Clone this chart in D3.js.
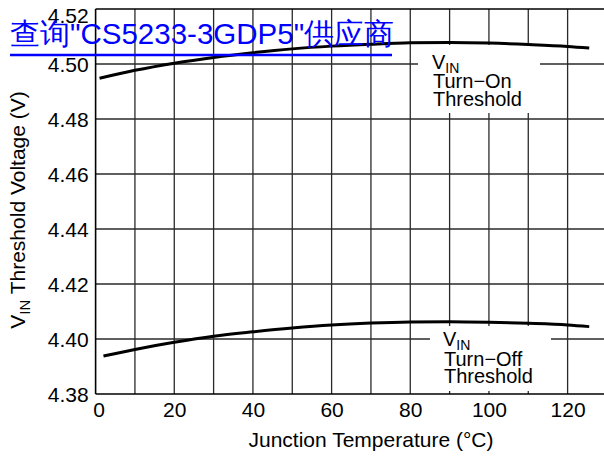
<!DOCTYPE html>
<html>
<head>
<meta charset="utf-8">
<script src="https://cdn.jsdelivr.net/npm/d3@7"></script>
<style>
  html, body { margin: 0; padding: 0; background: #fff; }
  svg { display: block; }
  text { font-family: "Liberation Sans", Arial, Helvetica, sans-serif; fill: #000; }
</style>
</head>
<body>
<script>
// ---- data ----
const xTicks = [0, 20, 40, 60, 80, 100, 120];
const xGrid = [10, 20, 30, 40, 50, 60, 70, 80, 90, 100, 110, 120];
const yTicks = [4.38, 4.40, 4.42, 4.44, 4.46, 4.48, 4.50, 4.52];
const yGrid = [4.40, 4.42, 4.44, 4.46, 4.48, 4.50];

const turnOnTemp = [1, 10, 20, 30, 40, 50, 60, 70, 80, 90, 100, 110, 120, 125.5];
const turnOnV = [4.4948, 4.4977, 4.5003, 4.5024, 4.5041, 4.5055, 4.5065, 4.5072, 4.5077, 4.5078, 4.5076, 4.5071, 4.5064, 4.5058];
const turnOffTemp = [2, 10, 20, 30, 40, 50, 60, 70, 80, 90, 100, 110, 120, 125.5];
const turnOffV = [4.3938, 4.3962, 4.3988, 4.4010, 4.4026, 4.4040, 4.4051, 4.4058, 4.4062, 4.4063, 4.4061, 4.4057, 4.4051, 4.4045];

const linkText = "查询\"CS5233-3GDP5\"供应商";
const xTitle = "Junction Temperature (°C)";

(function () {
// ---- layout ----
const W = 604, H = 458;
const pLeft = 95.6, pTop = 9, pBottom = 394;
const x = d3.scaleLinear().domain([0, 130]).range([pLeft, pLeft + 130 * (472 / 120)]);
const y = d3.scaleLinear().domain([4.38, 4.52]).range([pBottom, pTop]);

const svg = d3.select("body").append("svg").attr("width", W).attr("height", H);

// grid
const grid = svg.append("g").attr("stroke", "#2a2a2a").attr("stroke-width", 1.3);
grid.selectAll("line.v").data(xGrid).join("line").attr("class", "v")
  .attr("x1", d => x(d)).attr("x2", d => x(d))
  .attr("y1", y(4.52)).attr("y2", y(4.38));
grid.selectAll("line.h").data(yGrid).join("line").attr("class", "h")
  .attr("x1", x(0)).attr("x2", x(130))
  .attr("y1", d => y(d)).attr("y2", d => y(d));

// white boxes behind annotations
svg.append("rect").attr("x", 418).attr("y", 45).attr("width", 122).attr("height", 68).attr("fill", "#fff");
svg.append("rect").attr("x", 430).attr("y", 326).attr("width", 121).attr("height", 65).attr("fill", "#fff");

// frame
const frame = svg.append("g").attr("stroke", "#000").attr("stroke-width", 1.6).attr("fill", "none");
frame.append("line").attr("x1", x(0)).attr("x2", x(0)).attr("y1", y(4.52)).attr("y2", y(4.38));
frame.append("line").attr("x1", x(0)).attr("x2", x(130)).attr("y1", y(4.38)).attr("y2", y(4.38));
frame.append("line").attr("x1", x(0)).attr("x2", x(130)).attr("y1", y(4.52)).attr("y2", y(4.52));

// axes (labels only)
const yAxis = svg.append("g").attr("transform", `translate(${x(0) - 7},0)`)
  .call(d3.axisLeft(y).tickValues(yTicks).tickFormat(d3.format(".2f")).tickSize(0).tickPadding(0));
yAxis.select(".domain").remove();
yAxis.selectAll("text").attr("font-size", 21).attr("font-family", "Liberation Sans, Arial, sans-serif").attr("fill", "#000").attr("dy", "0.36em");
yAxis.selectAll(".tick").filter(d => d === 4.52).select("text").attr("dy", "0.64em");

const xAxis = svg.append("g").attr("transform", `translate(0,${y(4.38)})`)
  .call(d3.axisBottom(x).tickValues(xTicks).tickFormat(d3.format("d")).tickSize(0).tickPadding(8));
xAxis.select(".domain").remove();
xAxis.selectAll("text").attr("font-size", 21).attr("font-family", "Liberation Sans, Arial, sans-serif").attr("fill", "#000");
xAxis.selectAll(".tick").filter(d => d === 0).select("text").attr("dx", 3);

// axis titles
svg.append("text").attr("x", 371).attr("y", 447).attr("text-anchor", "middle")
  .attr("font-size", 21).text(xTitle);

const yt = svg.append("text").attr("transform", "translate(25,210) rotate(-90)")
  .attr("text-anchor", "middle").attr("font-size", 21);
yt.append("tspan").text("V");
yt.append("tspan").attr("font-size", 15).attr("dy", 5).text("IN");
yt.append("tspan").attr("dy", -5).text(" Threshold Voltage (V)");

// curves
const line = d3.line().x(d => x(d[0])).y(d => y(d[1])).curve(d3.curveMonotoneX);
svg.append("path").datum(d3.zip(turnOnTemp, turnOnV)).attr("d", line)
  .attr("fill", "none").attr("stroke", "#000").attr("stroke-width", 3);
svg.append("path").datum(d3.zip(turnOffTemp, turnOffV)).attr("d", line)
  .attr("fill", "none").attr("stroke", "#000").attr("stroke-width", 3);

// annotations
function annot(x0, yV, name) {
  const g = svg.append("g");
  const t = g.append("text").attr("x", x0).attr("y", yV).attr("font-size", 20);
  t.append("tspan").text("V");
  t.append("tspan").attr("font-size", 14).attr("dy", 4).text("IN");
  g.append("text").attr("x", x0 + 1).attr("y", yV + 19.5).attr("font-size", 20).text(name);
  g.append("text").attr("x", x0 + 1).attr("y", yV + 37).attr("font-size", 20).text("Threshold");
}
annot(432, 68.5, "Turn\u2212On");
annot(443, 346, "Turn\u2212Off");

// link text
svg.append("text").attr("x", 10).attr("y", 44)
  .attr("font-family", "'Liberation Sans', 'Noto Sans CJK SC', sans-serif")
  .attr("font-size", 29.5).style("fill", "#0000ff").text(linkText);
svg.append("line").attr("x1", 10).attr("x2", 392).attr("y1", 55).attr("y2", 55)
  .attr("stroke", "#0000ff").attr("stroke-width", 2.5);
})();
</script>
</body>
</html>
